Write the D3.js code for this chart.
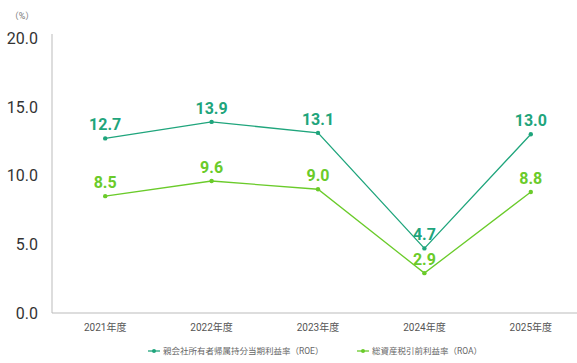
<!DOCTYPE html>
<html>
<head>
<meta charset="utf-8">
<script src="https://cdn.jsdelivr.net/npm/d3@7"></script>
<style>
  body { margin: 0; background: #fff; }
  svg { display: block; font-family: Roboto, "Noto Sans CJK JP", sans-serif; }
</style>
</head>
<body>
<svg id="chart" width="577" height="363"></svg>
<script>
// --- data ---
const years = ["2021年度", "2022年度", "2023年度", "2024年度", "2025年度"];
const roe = [12.7, 13.9, 13.1, 4.7, 13.0];
const roa = [8.5, 9.6, 9.0, 2.9, 8.8];
const yTicks = [0, 5, 10, 15, 20];
const seriesNames = ["親会社所有者帰属持分当期利益率（ROE）", "総資産税引前利益率（ROA）"];
const colors = ["#1fa57c", "#6acb2a"];

(function() {
const svg = d3.select("#chart");
const plotL = 52, plotR = 584, plotT = 38, plotB = 313;

const x = d3.scalePoint().domain(years).range([plotL, plotR]).padding(0.5);
const y = d3.scaleLinear().domain([0, 20]).range([plotB, plotT]);

// axis lines
svg.append("line").attr("x1", plotL).attr("x2", plotL).attr("y1", 34).attr("y2", plotB)
  .attr("stroke", "#bbb").attr("stroke-width", 1);
svg.append("line").attr("x1", plotL).attr("x2", 577).attr("y1", plotB).attr("y2", plotB)
  .attr("stroke", "#bbb").attr("stroke-width", 1);

// y tick labels
svg.selectAll(".ytick").data(yTicks).join("text")
  .attr("x", 38).attr("y", d => y(d)).attr("dy", "0.36em")
  .attr("text-anchor", "end").attr("font-size", 16).attr("fill", "#333")
  .text(d => d.toFixed(1));

svg.append("text").attr("x", 22).attr("y", 19).attr("text-anchor", "middle")
  .attr("font-size", 9).attr("fill", "#777").text("（%）");

// x labels
svg.selectAll(".xtick").data(years).join("text")
  .attr("x", d => x(d)).attr("y", 331).attr("text-anchor", "middle")
  .attr("font-size", 10).attr("fill", "#555").text(d => d);

const line = d3.line().x((d, i) => x(years[i])).y(d => y(d));

[roe, roa].forEach((s, k) => {
  svg.append("path").datum(s).attr("d", line).attr("fill", "none")
    .attr("stroke", colors[k]).attr("stroke-width", 1.3);
  svg.selectAll(".dot" + k).data(s).join("circle")
    .attr("cx", (d, i) => x(years[i])).attr("cy", d => y(d)).attr("r", 2.2)
    .attr("fill", colors[k]);
  svg.selectAll(".lab" + k).data(s).join("text")
    .attr("x", (d, i) => x(years[i])).attr("y", d => y(d) - 8)
    .attr("text-anchor", "middle").attr("font-size", 16).attr("font-weight", "bold")
    .attr("fill", colors[k]).text(d => d.toFixed(1));
});

// legend
const legX = [148, 357];
seriesNames.forEach((n, k) => {
  const g = svg.append("g").attr("transform", `translate(${legX[k]},351)`);
  g.append("line").attr("x1", 0).attr("x2", 12).attr("stroke", colors[k]).attr("stroke-width", 1.3);
  g.append("circle").attr("cx", 6).attr("r", 2).attr("fill", colors[k]);
  g.append("text").attr("x", 15).attr("dy", "0.35em").attr("font-size", 8.5).attr("fill", "#666").text(n);
});
})();
</script>
</body>
</html>
